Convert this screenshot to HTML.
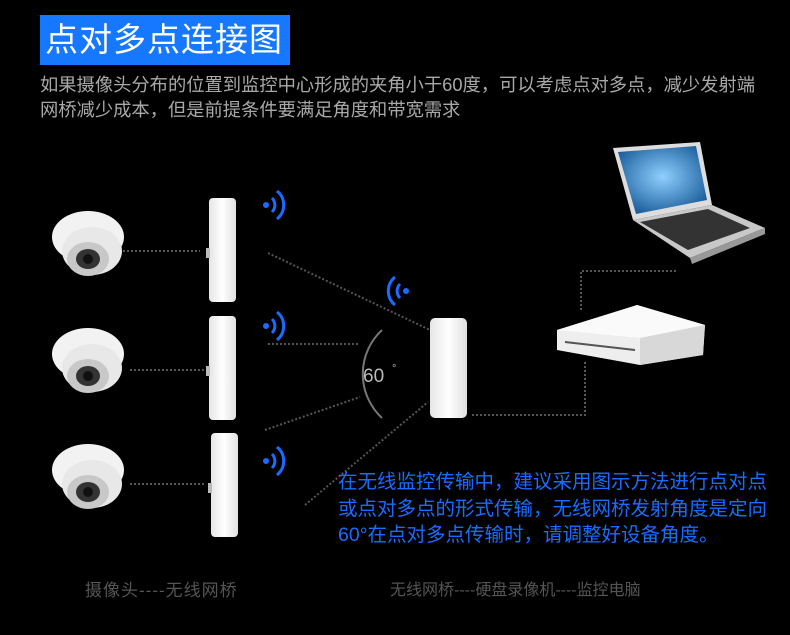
<!DOCTYPE html><html><head><meta charset="utf-8"><style>
body{margin:0;background:#000;width:790px;height:635px;overflow:hidden;font-family:"Liberation Sans","Noto Sans CJK SC",sans-serif;position:relative}
.t{position:absolute;white-space:nowrap}
</style></head><body>
<div class="t" style="left:40px;top:15px;width:250px;height:50px;background:#1677ff"></div>
<div class="t" style="left:45px;top:15px;color:#fff;font-size:33px;line-height:50px;letter-spacing:1px">点对多点连接图</div>
<div class="t" style="left:40px;top:72px;color:#a8a8a8;font-size:18.3px;line-height:25px">如果摄像头分布的位置到监控中心形成的夹角小于60度，可以考虑点对多点，减少发射端<br>网桥减少成本，但是前提条件要满足角度和带宽需求</div>
<svg width="790" height="635" style="position:absolute;left:0;top:0">
<defs>
<radialGradient id="scr" cx="0.5" cy="0.45" r="0.6"><stop offset="0" stop-color="#8fd0ff"/><stop offset="1" stop-color="#1a5c9a"/></radialGradient>
<linearGradient id="wb" x1="0" x2="1"><stop offset="0" stop-color="#e6e6e6"/><stop offset="0.5" stop-color="#fff"/><stop offset="1" stop-color="#e0e0e0"/></linearGradient>
<g id="cam">
<ellipse cx="0" cy="-8" rx="36" ry="26" fill="#f2f2f2"/>
<ellipse cx="4" cy="6" rx="30" ry="24" fill="#e8e8e8"/>
<ellipse cx="0" cy="14" rx="21" ry="17" fill="#c8c8c8"/>
<ellipse cx="0" cy="14" rx="12" ry="10" fill="#333"/>
<circle cx="0" cy="14" r="5" fill="#111"/>
</g>
<g id="br"><rect x="0" y="0" width="27" height="104" rx="4" fill="url(#wb)"/><rect x="-3" y="50" width="4" height="10" fill="#bbb"/></g>
<g id="wf" fill="none" stroke="#1a6cff" stroke-width="3"><circle cx="0" cy="0" r="3" fill="#1a6cff" stroke="none"/><path d="M6,-7 A10,10 0 0 1 6,7"/><path d="M11,-14 A18,18 0 0 1 11,14"/></g>
</defs>
<g stroke="#555" stroke-width="2" stroke-dasharray="2,2" fill="none">
<line x1="123" y1="251" x2="200" y2="251"/><line x1="130" y1="370" x2="205" y2="370"/><line x1="130" y1="484" x2="205" y2="484"/>
<line x1="268" y1="253" x2="430" y2="330"/><line x1="268" y1="344" x2="360" y2="344"/><line x1="265" y1="430" x2="360" y2="397"/><line x1="305" y1="505" x2="428" y2="402"/>
<polyline points="472,415 585,415 585,362"/><polyline points="581,310 581,271 677,271"/>
</g>
<path d="M382,330 A60,60 0 0 0 382,418" fill="none" stroke="#777" stroke-width="2"/>
<text x="363" y="382" fill="#bbb" font-size="19" font-family="Liberation Sans">60</text><text x="392" y="372" fill="#bbb" font-size="11">°</text>
<use href="#cam" x="88" y="245"/><use href="#cam" x="88" y="362"/><use href="#cam" x="88" y="478"/>
<use href="#br" x="209" y="198"/><use href="#br" x="209" y="316"/><use href="#br" x="211" y="433"/>
<rect x="430" y="318" width="37" height="100" rx="5" fill="url(#wb)"/>
<use href="#wf" x="266" y="205"/><use href="#wf" x="266" y="326"/><use href="#wf" x="266" y="461"/>
<use href="#wf" transform="translate(406,291) scale(-1,1)"/>
<polygon points="557,330 637,305 705,325 703,355 640,365 557,350" fill="#eee"/>
<polygon points="557,330 637,305 705,325 640,338" fill="#fafafa"/>
<polygon points="640,338 705,325 703,355 640,365" fill="#d8d8d8"/>
<line x1="565" y1="342" x2="635" y2="350" stroke="#555" stroke-width="2"/>
<polygon points="613,148 700,142 712,205 633,220" fill="#ddd"/>
<polygon points="618,152 696,146 707,200 636,214" fill="url(#scr)"/>
<polygon points="633,220 712,205 765,228 690,258" fill="#c8c8c8"/>
<polygon points="640,222 708,209 750,228 688,250" fill="#333"/>
<polygon points="690,258 765,228 765,234 692,264" fill="#999"/>
</svg>
<div class="t" style="left:338px;top:469px;color:#1a6cff;font-size:19.5px;line-height:26.5px">在无线监控传输中，建议采用图示方法进行点对点<br>或点对多点的形式传输，无线网桥发射角度是定向<br>60°在点对多点传输时，请调整好设备角度。</div>
<div class="t" style="left:85px;top:576px;color:#555;font-size:17px;letter-spacing:1px">摄像头----无线网桥</div>
<div class="t" style="left:390px;top:576px;color:#555;font-size:16px">无线网桥----硬盘录像机----监控电脑</div>
</body></html>
